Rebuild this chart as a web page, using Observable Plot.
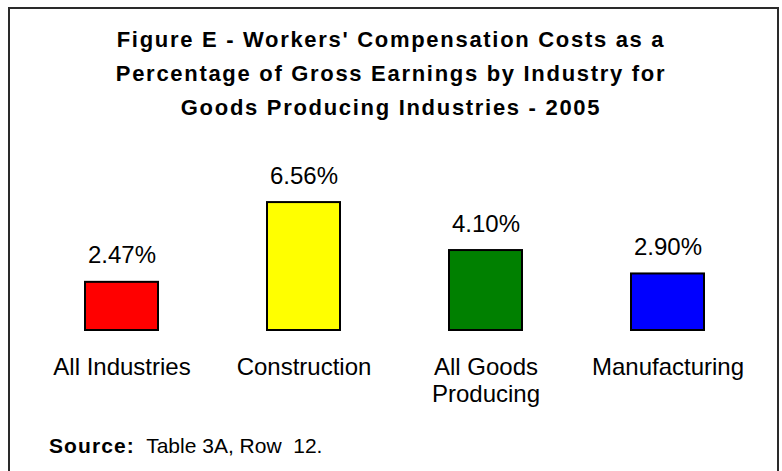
<!DOCTYPE html>
<html>
<head>
<meta charset="utf-8">
<script src="https://cdn.jsdelivr.net/npm/d3@7"></script>
<script src="https://cdn.jsdelivr.net/npm/@observablehq/plot@0.6"></script>
<style>
  html, body { margin: 0; padding: 0; background: #fff; width: 782px; height: 471px; overflow: hidden; }
  body { position: relative; font-family: Arial, "Liberation Sans", sans-serif; color: #000; }
  #frame { position: absolute; left: 8px; top: 7px; width: 771px; height: 475px; border: 2px solid #2a2a2a; box-sizing: border-box; }
  #title { position: absolute; left: 0; top: 23px; width: 782px; text-align: center; font-weight: bold; font-size: 22px; line-height: 34px; letter-spacing: 1.7px; }
  #chart { position: absolute; left: 0; top: 140px; }
  #source { position: absolute; left: 49px; top: 435px; font-size: 21px; line-height: 21px; white-space: pre; }
  #source b { letter-spacing: 1.1px; }
</style>
</head>
<body>
<div id="frame"></div>
<div id="title">Figure E - Workers' Compensation Costs as a<br>Percentage of Gross Earnings by Industry for<br>Goods Producing Industries - 2005</div>
<div id="chart"></div>
<div id="source"><b>Source:</b>  Table 3A, Row  12.</div>
<script>
const categories = ["All Industries", "Construction", "All Goods Producing", "Manufacturing"];
const tickLabels = ["All Industries", "Construction", "All Goods\nProducing", "Manufacturing"];
const values = [2.47, 6.56, 4.10, 2.90];
const valueLabels = ["2.47%", "6.56%", "4.10%", "2.90%"];
const colors = ["#FF0000", "#FFFF00", "#008000", "#0000FF"];

const data = categories.map((c, i) => ({category: c, value: values[i], label: valueLabels[i], color: colors[i]}));

const chart = Plot.plot({
  width: 782,
  height: 280,
  marginTop: 34,
  marginBottom: 90,
  marginLeft: 47,
  marginRight: 40,
  style: {fontFamily: "Arial, 'Liberation Sans', sans-serif", fontSize: "24px", background: "transparent", overflow: "visible"},
  x: {domain: categories, paddingInner: 0.6, paddingOuter: 0.2, axis: null},
  y: {domain: [0, 8], axis: null},
  marks: [
    Plot.barY(data, {x: "category", y: "value", fill: "color", stroke: "#000", strokeWidth: 2, inset: 0}),
    Plot.text(data, {x: "category", y: "value", text: "label", dy: -19, lineAnchor: "bottom", fontSize: 24, fill: "#000"}),
    Plot.axisX({tickSize: 0, tickPadding: 25, fontSize: 24, lineHeight: 1.14, label: null, tickFormat: d => tickLabels[categories.indexOf(d)], fill: "#000"})
  ]
});
document.getElementById("chart").appendChild(chart);
</script>
</body>
</html>
